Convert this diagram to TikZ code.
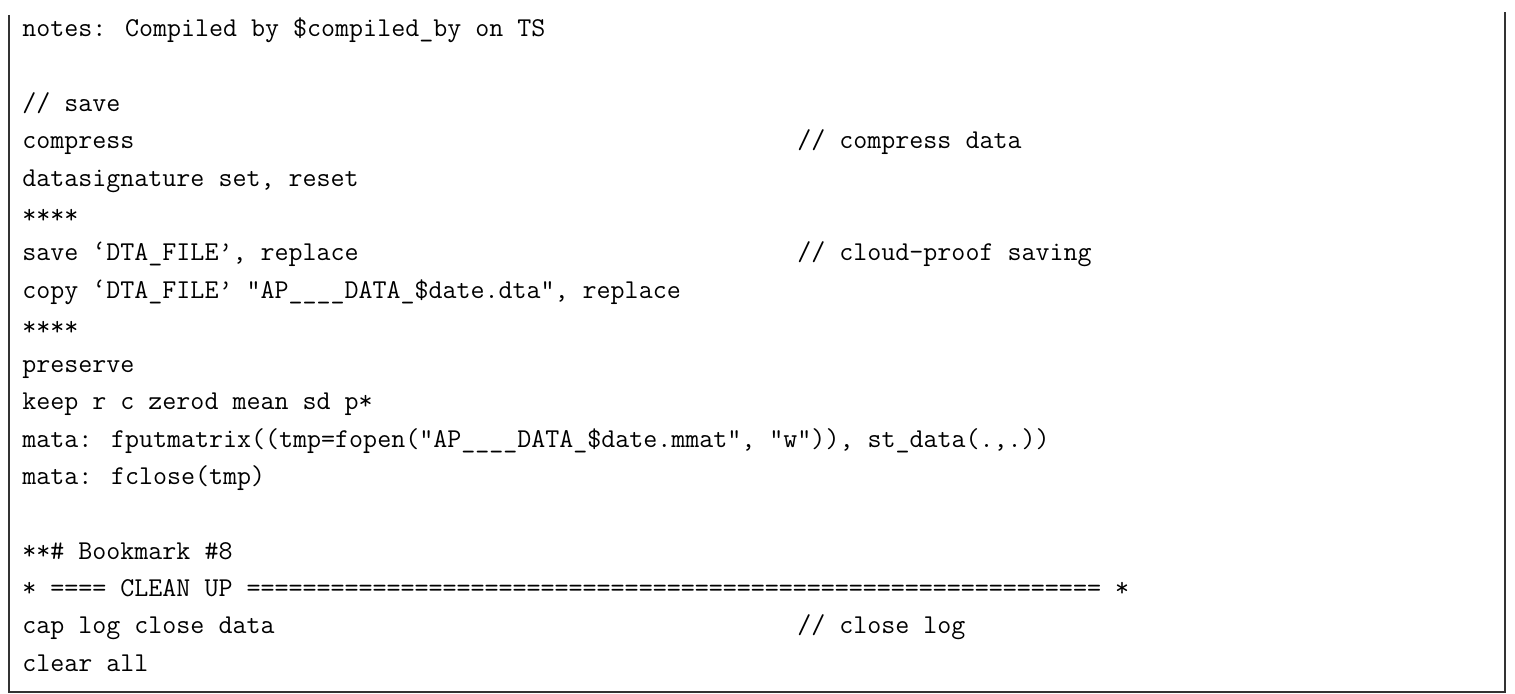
\documentclass[tikz,border=0pt]{standalone}
\begin{document}
\begin{tikzpicture}[x=0.5pt,y=-0.5pt,
  code/.style={anchor=base west,inner sep=0pt,font=\fontsize{13.6}{16}\ttfamily},
  frame/.style={line width=1.1pt,draw=black!80}]
\useasboundingbox (0,0) rectangle (1515,694);
\draw[frame] (9,15) -- (9,692) -- (1505,692) -- (1505,12);
\def\ls{37.3}
\node[code] (l0) at (22,37) {notes: Compiled by \$compiled\_by on TS};
\node[code] (l2) at (22,37+2*\ls) {// save};
\node[code] (l3) at (22,37+3*\ls) {compress};
\node[code] (c3) at (797,37+3*\ls) {// compress data};
\node[code] (l4) at (22,37+4*\ls) {datasignature set, reset};
\node[code] (l5) at (22,37+5*\ls) {****};
\node[code] (l6) at (22,37+6*\ls) {save ‘DTA\_FILE’, replace};
\node[code] (c6) at (797,37+6*\ls) {// cloud-proof saving};
\node[code] (l7) at (22,37+7*\ls) {copy ‘DTA\_FILE’ "AP\_\_\_\_DATA\_\$date.dta", replace};
\node[code] (l8) at (22,37+8*\ls) {****};
\node[code] (l9) at (22,37+9*\ls) {preserve};
\node[code] (l10) at (22,37+10*\ls) {keep r c zerod mean sd p*};
\node[code] (l11) at (22,37+11*\ls) {mata: fputmatrix((tmp=fopen("AP\_\_\_\_DATA\_\$date.mmat", "w")), st\_data(.,.))};
\node[code] (l12) at (22,37+12*\ls) {mata: fclose(tmp)};
\node[code] (l14) at (22,37+14*\ls) {**\# Bookmark \#8};
\node[code] (l15) at (22,37+15*\ls) {* ==== CLEAN UP ============================================================= *};
\node[code] (l16) at (22,37+16*\ls) {cap log close data};
\node[code] (c16) at (797,37+16*\ls) {// close log};
\node[code] (l17) at (22,37+17*\ls) {clear all};
\end{tikzpicture}
\end{document}
